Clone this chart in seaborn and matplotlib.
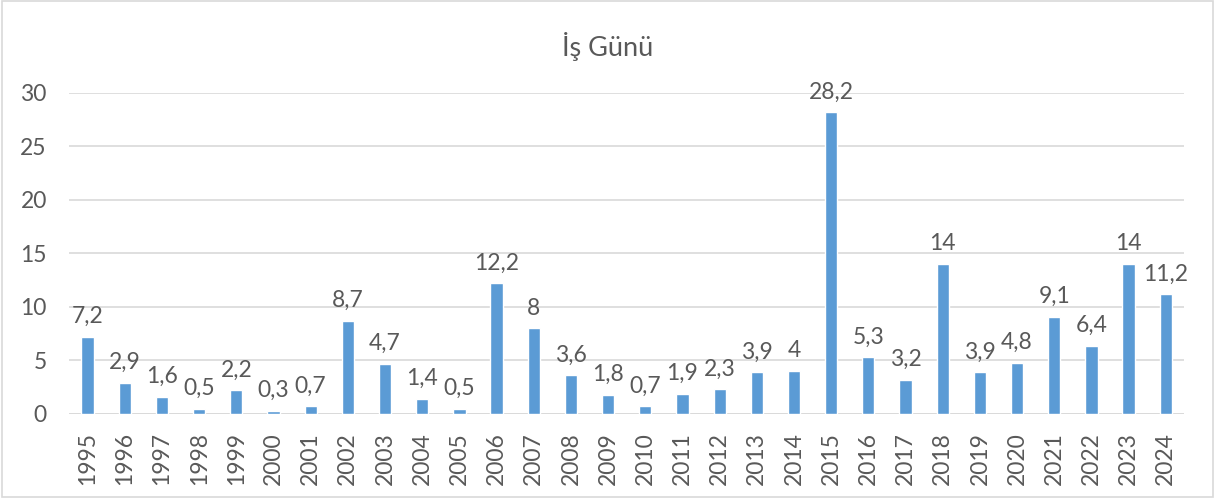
import matplotlib
matplotlib.use("Agg")
import matplotlib.pyplot as plt
import seaborn as sns
import pandas as pd
from matplotlib.patches import Rectangle

years = [str(y) for y in range(1995, 2025)]
days = [7.2, 2.9, 1.6, 0.5, 2.2, 0.3, 0.7, 8.7, 4.7, 1.4, 0.5, 12.2, 8, 3.6, 1.8,
        0.7, 1.9, 2.3, 3.9, 4, 28.2, 5.3, 3.2, 14, 3.9, 4.8, 9.1, 6.4, 14, 11.2]
title = "İş Günü"

df = pd.DataFrame({"Yıl": years, "Gün": days})

sns.set_style("white")
plt.rcParams['font.family'] = ['Lato', 'DejaVu Sans']
txt = "#595959"
fs = 16.5

fig = plt.figure(figsize=(12.15, 4.98), dpi=100)
ax = fig.add_axes([0.0568, 0.1687, 0.918, 0.6446])
sns.barplot(data=df, x="Yıl", y="Gün", color="#5B9BD5", width=0.33,
            saturation=1, ax=ax, zorder=3)

ax.set_ylim(0, 30)
ax.set_xlim(-0.5, len(years) - 0.5)
ax.set_yticks([0, 5, 10, 15, 20, 25, 30])
ax.yaxis.grid(True, color="#D9D9D9", linewidth=1.2, zorder=0)
for s in ax.spines.values():
    s.set_visible(False)
ax.axhline(0, color="#D9D9D9", linewidth=1.2, zorder=1)
ax.set_xlabel("")
ax.set_ylabel("")
ax.tick_params(axis="y", length=0, labelsize=fs, labelcolor=txt, pad=16)
ax.tick_params(axis="x", length=0, labelsize=fs, labelcolor=txt, rotation=90, pad=13)

# etiketler
for i, v in enumerate(days):
    lab = str(v).replace(".", ",")
    if lab.endswith(",0"):
        lab = lab[:-2]
    ax.annotate(lab, (i, v), xytext=(0, 7), textcoords="offset points",
                ha="center", va="bottom", fontsize=fs, color=txt,
                annotation_clip=False)

fig.text(0.5, 0.906, title, ha="center", va="center", fontsize=19.5, color=txt)
fig.patches.append(Rectangle((0.002, 0.003), 0.996, 0.994, transform=fig.transFigure,
                             fill=False, edgecolor="#D9D9D9", linewidth=1.2))

fig.savefig("out.png", dpi=100)
